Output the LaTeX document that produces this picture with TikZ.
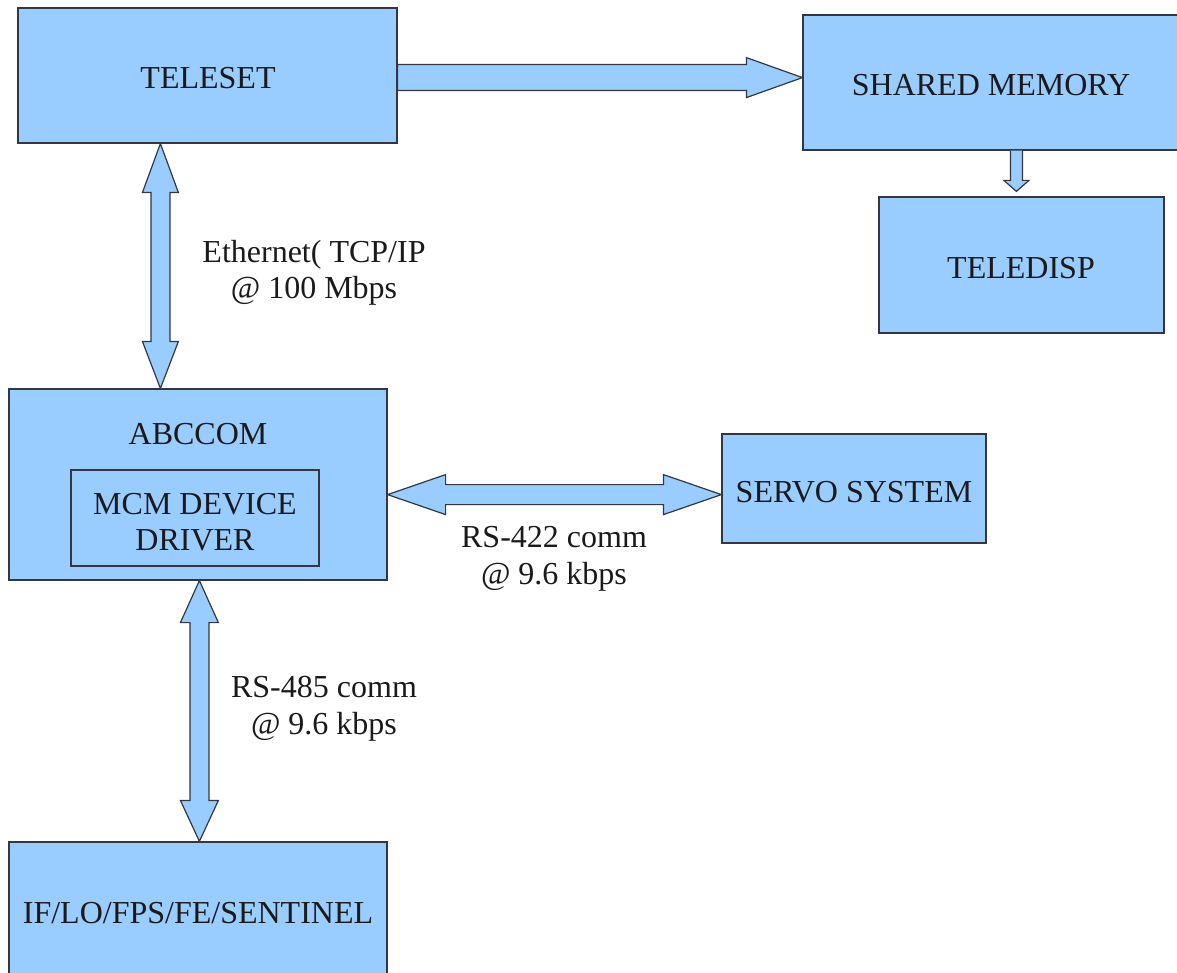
\documentclass[tikz,border=0pt]{standalone}
\usepackage{fontspec}
\setmainfont{Liberation Serif}
\usetikzlibrary{calc,fit}
\definecolor{boxfill}{HTML}{99CCFF}
\definecolor{boxline}{HTML}{333840}
\definecolor{txt}{HTML}{1A1A1A}
\begin{document}
\begin{tikzpicture}[x=0.5pt,y=-0.5pt,
  box/.style={draw=boxline,fill=boxfill,line width=0.6pt,inner sep=0pt},
  lbl/.style={text=txt,font=\fontsize{16}{18.3}\selectfont,align=center,inner sep=0pt},
  barrow/.style={draw=boxline,fill=boxfill,line width=0.6pt,line join=miter}]
\useasboundingbox (0,0) rectangle (1177,973);
\clip (0,0) rectangle (1177,973);
% boxes
\node[box,fit={(18,8) (397,143)}] (teleset) {};
\node[lbl] (telesetT) at (208,78) {TELESET};
\node[box,fit={(803,15) (1200,150)}] (shm) {};
\node[lbl] (shmT) at (991,85) {SHARED MEMORY};
\node[box,fit={(879,197) (1164,333)}] (teledisp) {};
\node[lbl] (teledispT) at (1021,268) {TELEDISP};
\node[box,fit={(9,389) (387,580)}] (abccom) {};
\node[lbl] (abccomT) at (198,434) {ABCCOM};
\node[box,fit={(71,470) (319,566)}] (mcm) {};
\node[lbl] (mcmT) at (195,522) {MCM DEVICE\\DRIVER};
\node[box,fit={(722,434) (986,543)}] (servo) {};
\node[lbl] (servoT) at (854,492) {SERVO SYSTEM};
\node[box,fit={(9,842) (387,1010)}] (ifbox) {};
\node[lbl] (ifT) at (198,913) {IF/LO/FPS/FE/SENTINEL};
% edge labels
\node[lbl] (ethT) at (314,273) {Ethernet( TCP/IP\\@ 100 Mbps};
\node[lbl] (rs422T) at (554,559) {RS-422 comm\\@ 9.6 kbps};
\node[lbl] (rs485T) at (324,709) {RS-485 comm\\@ 9.6 kbps};
% arrow teleset -> shared memory
\coordinate (a1) at ($(teleset.south east)+(0,-66)$);
\coordinate (a2) at (shm.west |- a1);
\draw[barrow] ($(a1)+(0,-13)$) -- ($(a2)+(-56,-13)$) -- ($(a2)+(-56,-20)$) -- (a2)
  -- ($(a2)+(-56,20)$) -- ($(a2)+(-56,13)$) -- ($(a1)+(0,13)$) -- cycle;
% arrow teleset <-> abccom
\coordinate (b1) at ($(teleset.south west)+(143,0)$);
\coordinate (b2) at (b1 |- abccom.north);
\draw[barrow] (b1) -- ($(b1)+(18,49)$) -- ($(b1)+(9.5,49)$) -- ($(b2)+(9.5,-47)$)
  -- ($(b2)+(18,-47)$) -- (b2) -- ($(b2)+(-18,-47)$) -- ($(b2)+(-9.5,-47)$)
  -- ($(b1)+(-9.5,49)$) -- ($(b1)+(-18,49)$) -- cycle;
% arrow abccom <-> ifbox
\coordinate (c1) at ($(abccom.south west)+(191,0)$);
\coordinate (c2) at (c1 |- ifbox.north);
\draw[barrow] (c1) -- ($(c1)+(19,42)$) -- ($(c1)+(9.5,42)$) -- ($(c2)+(9.5,-41)$)
  -- ($(c2)+(19,-41)$) -- (c2) -- ($(c2)+(-19,-41)$) -- ($(c2)+(-9.5,-41)$)
  -- ($(c1)+(-9.5,42)$) -- ($(c1)+(-19,42)$) -- cycle;
% arrow abccom <-> servo
\coordinate (d1) at ($(abccom.south east)+(0,-86)$);
\coordinate (d2) at (servo.west |- d1);
\draw[barrow] (d1) -- ($(d1)+(58,-20)$) -- ($(d1)+(58,-10)$) -- ($(d2)+(-58,-10)$)
  -- ($(d2)+(-58,-20)$) -- (d2) -- ($(d2)+(-58,20)$) -- ($(d2)+(-58,10)$)
  -- ($(d1)+(58,10)$) -- ($(d1)+(58,20)$) -- cycle;
% arrow shared memory -> teledisp
\coordinate (e1) at ($(shm.south west)+(214,0)$);
\coordinate (e2) at ($(e1 |- teledisp.north)+(0,-5)$);
\draw[barrow] ($(e1)+(-6,0)$) -- ($(e2)+(-6,-11)$) -- ($(e2)+(-12.5,-11)$) -- (e2)
  -- ($(e2)+(12.5,-11)$) -- ($(e2)+(6,-11)$) -- ($(e1)+(6,0)$);
\end{tikzpicture}
\end{document}
